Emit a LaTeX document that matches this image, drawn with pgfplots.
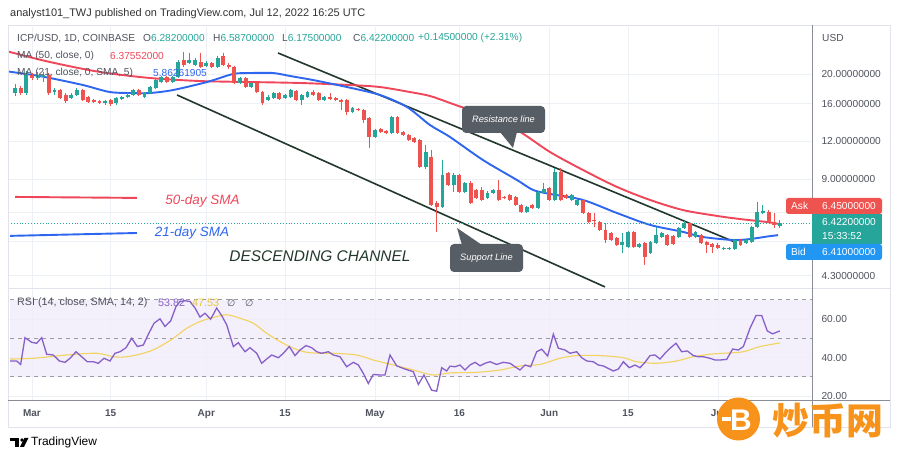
\documentclass[border=0pt]{standalone}
\usepackage{fontspec}
\setmainfont{Liberation Sans}
\newfontfamily\dejavu{DejaVu Sans}
\newfontfamily\cjk{Noto Sans CJK SC}
\usepackage{pgfplots}
\usepackage{pgfplotstable}
\pgfplotsset{compat=1.18}

\definecolor{up}{HTML}{26A69A}
\definecolor{dn}{HTML}{EF5350}
\definecolor{maR}{HTML}{F0465A}
\definecolor{maB}{HTML}{2E66F0}
\definecolor{chan}{HTML}{22382C}
\definecolor{gridc}{HTML}{EDF0F5}
\definecolor{txt}{HTML}{50535E}
\definecolor{hdr}{HTML}{333333}
\definecolor{rsiP}{HTML}{8660C8}
\definecolor{rsiY}{HTML}{F2D35E}
\definecolor{rsiYt}{HTML}{E9C63E}
\definecolor{band}{HTML}{F1ECFA}
\definecolor{dashc}{HTML}{9A9CA3}
\definecolor{callout}{HTML}{575D64}
\definecolor{askc}{HTML}{EF5350}
\definecolor{bidc}{HTML}{2196F3}
\definecolor{coin}{HTML}{F7931A}
\definecolor{frame}{HTML}{E0E3EB}
\definecolor{sep}{HTML}{8A8D96}

\newcommand\fs[1]{\fontsize{#1}{#1}\selectfont}
\pgfplotsset{candle/.style={only marks, mark=*, mark size=0pt,
  mark options={draw=none, fill=none},
  error bars/.cd, y dir=minus, y explicit, error mark=none}}

% day index: 0 = 1 Mar 2022; prices in USD
\pgfplotstableread{
d o h l c
-3 17.35 18.59 16.96 18.02
-1 17.35 20.52 17.09 20.21
1 19.46 20.37 19.16 19.91
2 19.61 20.37 18.87 19.91
4 17.48 18.02 17.09 17.75
7 16.70 17.35 16.57 17.09
8 17.09 18.02 16.96 17.75
13 16.08 16.45 15.83 16.33
15 16.08 16.83 15.83 16.70
16 16.57 16.96 16.45 16.83
17 16.83 17.35 16.70 17.09
18 17.09 17.89 16.96 17.75
20 16.83 17.48 16.70 17.35
21 17.35 18.30 17.22 18.16
22 18.02 19.31 17.89 19.16
23 18.87 19.76 18.73 19.61
25 18.87 19.76 18.73 19.61
26 19.61 22.32 19.46 21.98
28 21.82 23.55 21.65 22.32
29 21.49 22.67 21.33 22.32
31 21.33 22.15 21.17 21.82
33 21.17 23.01 21.01 22.67
37 18.73 19.61 18.59 19.46
39 18.16 18.87 18.02 18.73
42 16.45 17.09 16.33 16.83
43 16.70 17.48 16.57 17.35
45 16.70 17.22 16.57 17.09
46 16.83 17.89 16.70 17.75
48 16.45 17.22 15.83 17.09
49 16.83 17.62 16.70 17.48
52 16.45 16.96 16.33 16.83
57 15.01 15.59 14.90 15.47
61 12.40 13.18 12.31 13.08
64 12.79 14.56 12.69 14.45
70 9.86 11.67 9.71 11.06
73 7.27 10.40 7.22 9.28
75 8.60 9.42 8.15 9.28
77 8.15 8.80 8.09 8.73
81 7.79 8.21 7.73 8.09
82 8.09 8.34 8.03 8.28
88 7.00 7.33 6.94 7.27
90 7.22 8.21 7.16 8.15
91 8.09 8.73 8.03 8.34
93 7.67 9.79 7.61 9.49
96 7.67 8.03 7.61 7.97
97 7.38 7.73 7.33 7.67
105 5.44 5.96 5.11 5.56
106 5.36 6.05 5.31 6.01
108 5.36 5.52 5.31 5.48
110 5.11 5.61 5.07 5.56
111 5.52 6.24 5.48 5.87
112 5.78 6.01 5.74 5.96
115 5.78 6.24 5.74 6.19
116 6.19 6.53 6.15 6.43
118 5.78 6.05 5.74 6.01
123 5.27 5.36 5.23 5.31
124 5.27 5.36 5.23 5.31
125 5.27 5.69 5.23 5.65
127 5.52 5.69 5.48 5.65
128 5.56 6.29 5.52 6.24
129 6.24 7.55 6.19 7.00
130 6.94 7.38 6.89 7.05
133 6.282 6.587 6.175 6.422
}\upc

\pgfplotstableread{
d o h l c
-2 18.02 18.30 17.09 17.35
0 19.91 20.21 19.16 19.46
3 19.91 20.21 17.09 17.35
5 17.75 17.89 16.57 16.70
6 17.09 17.35 16.08 16.33
9 17.75 17.89 16.33 16.45
10 16.83 16.96 16.08 16.20
11 16.45 16.57 16.08 16.20
12 16.33 16.45 15.96 16.08
14 16.45 16.57 15.71 15.96
19 17.75 17.89 16.96 17.09
24 19.61 19.76 18.73 18.87
27 22.32 23.73 21.17 21.49
30 21.98 23.55 21.01 21.17
32 21.82 21.98 21.01 21.17
34 23.01 23.55 21.33 21.49
35 21.49 21.82 20.85 21.17
36 21.17 21.33 18.59 18.73
38 19.46 19.61 18.02 18.16
40 18.73 18.87 17.35 17.48
41 17.48 17.62 15.83 16.08
44 17.35 17.48 16.45 16.57
47 17.62 17.75 16.33 16.45
50 17.48 17.75 16.96 17.09
51 17.35 17.48 16.33 16.45
53 16.83 17.35 16.45 16.57
54 16.70 16.83 16.33 16.45
55 16.45 16.57 15.24 16.20
56 16.45 16.57 14.67 15.01
58 15.36 15.47 15.12 15.24
59 15.24 15.36 13.80 14.12
60 14.34 14.45 11.41 12.40
62 13.18 13.28 12.79 12.88
63 12.98 13.08 12.69 12.79
65 14.45 14.56 12.69 12.79
66 12.88 12.98 12.50 12.59
67 12.59 12.69 12.03 12.12
68 12.31 12.40 11.85 11.94
69 12.12 12.21 9.79 9.86
71 10.65 11.23 7.33 7.38
72 7.50 7.61 6.01 7.27
74 9.42 9.49 8.53 8.60
76 9.28 9.35 8.09 8.15
78 8.73 8.86 7.44 7.50
79 8.28 8.34 7.73 7.79
80 8.28 8.47 7.61 7.67
83 8.28 8.93 7.61 7.67
84 7.85 7.91 7.73 7.79
85 7.97 8.03 7.61 7.67
86 7.85 7.91 7.33 7.38
87 7.38 7.44 6.94 7.00
89 7.38 7.44 7.16 7.22
92 8.40 8.47 7.61 7.67
94 9.49 9.79 7.61 7.67
95 7.97 8.03 7.73 7.79
98 7.67 7.73 6.89 6.94
99 6.94 7.00 6.43 6.48
100 6.58 6.94 6.24 6.53
101 6.48 6.53 6.05 6.10
102 6.10 6.43 5.52 5.65
103 5.96 6.01 5.61 5.65
104 5.74 5.78 5.40 5.44
107 6.01 6.05 5.31 5.36
109 5.52 5.56 4.67 4.96
113 5.87 5.92 5.40 5.44
114 5.83 5.87 5.44 5.48
117 6.43 6.48 5.74 5.78
119 5.87 5.92 5.48 5.52
120 5.56 5.61 5.11 5.44
121 5.48 5.52 5.11 5.36
122 5.44 5.52 5.27 5.31
126 5.65 5.69 5.40 5.44
131 7.00 7.10 6.43 6.48
132 6.48 6.94 6.19 6.34
}\dnc

% 50-day SMA
\pgfplotstableread{
d p
-4.27 23.82
3.20 21.98
12.09 20.37
20.99 19.46
29.88 19.01
38.77 18.87
47.66 18.73
56.55 18.44
61.89 18.16
67.22 17.48
70.78 16.96
74.34 16.08
80.21 14.67
86.25 13.08
92.12 11.06
97.99 9.64
104.04 8.47
109.91 7.67
115.77 7.10
121.82 6.79
125.91 6.63
130.71 6.48
133.00 6.3755
}\maRed

% 21-day SMA
\pgfplotstableread{
d p
-4.27 20.45
0.18 19.91
3.20 19.46
9.07 18.44
13.87 17.48
17.96 17.35
20.99 17.35
25.08 17.75
31.12 18.87
35.75 20.06
38.77 20.21
42.86 20.21
45.88 19.76
49.97 19.16
56.02 18.16
61.89 17.09
66.69 15.59
70.78 13.59
74.34 12.40
80.21 10.40
86.25 8.93
89.10 8.28
92.12 8.03
97.99 7.67
104.04 6.94
109.91 6.34
115.77 6.01
119.33 5.78
124.66 5.65
127.68 5.69
130.71 5.80
132.67 5.8626
}\maBlue

\pgfplotstableread{
d p
43.75 23.55
125.02 5.56
}\resline
\pgfplotstableread{
d p
25.79 17.09
101.90 3.95
}\supline
\pgfplotstableread{
d p
-4.27 6.422
138.72 6.422
}\lastp
\pgfplotstableread{
d p
-3.02 7.85
18.67 7.79
}\swR
\pgfplotstableread{
d p
-3.91 5.83
18.67 5.96
}\swB

% RSI 14 and its SMA
\pgfplotstableread{
d v
-3.91 38.2
-2.73 38.2
-2.02 36.4
-1.25 50.3
-0.06 47.9
0.83 47.4
1.72 50.3
2.61 41.7
3.79 41.3
4.86 38.2
5.87 37.5
6.76 39.6
7.83 43.0
8.83 40.4
9.84 37.8
10.91 37.8
11.80 37.0
12.80 39.6
13.87 38.2
14.76 42.2
15.65 43.0
16.72 45.1
17.73 50.0
18.73 45.7
19.80 46.5
20.69 52.1
21.70 57.8
22.76 60.1
23.65 56.1
24.66 59.0
25.61 66.5
26.32 69.1
27.21 69.5
28.10 69.1
28.99 65.7
29.88 61.0
30.77 63.0
31.77 59.9
32.84 65.7
33.73 61.8
34.62 57.0
35.81 45.7
36.69 47.7
37.88 43.0
38.77 45.1
39.96 42.2
40.84 37.0
41.73 39.2
42.62 41.3
43.81 39.9
44.70 42.2
45.76 45.7
46.77 41.0
47.66 43.9
48.73 46.2
49.74 45.1
50.63 43.0
51.51 42.2
52.70 43.0
53.59 41.3
54.78 40.4
55.96 35.2
57.15 37.5
58.04 36.1
58.93 31.7
59.81 26.5
60.70 31.2
61.89 30.9
62.78 30.9
63.67 41.3
64.85 35.7
66.04 34.3
67.82 32.6
68.71 26.0
69.71 30.9
71.08 23.0
71.97 22.5
72.86 34.7
73.74 33.0
74.34 35.5
75.23 35.2
76.12 36.1
77.01 33.5
77.90 36.1
78.79 37.5
79.68 35.7
80.56 37.0
81.45 37.8
82.64 36.4
83.82 37.5
85.01 37.0
85.90 35.2
86.79 33.5
87.68 36.1
88.69 35.2
89.75 43.0
90.64 44.3
91.71 40.8
92.72 52.1
93.61 44.8
94.79 43.9
95.68 42.2
96.87 43.0
97.76 39.9
98.65 38.2
99.83 37.8
100.72 36.1
101.61 35.6
102.50 34.3
103.39 33.0
104.28 34.0
105.17 37.8
106.23 34.7
107.24 36.1
108.13 34.7
109.02 37.5
109.91 41.0
110.80 41.3
111.69 39.2
112.58 42.2
113.47 44.8
114.53 47.4
115.54 43.0
116.55 43.4
117.61 41.0
118.50 40.4
119.39 40.4
120.58 39.6
121.47 38.7
122.36 38.7
123.54 39.0
124.61 44.4
125.62 43.9
126.51 45.7
127.69 55.2
128.76 61.8
129.77 61.8
130.77 53.8
131.72 52.3
133.00 53.82
}\rsi

\pgfplotstableread{
d v
-3.91 39.2
0.24 39.6
6.17 41.3
11.50 42.2
14.46 40.4
16.84 40.4
19.80 42.2
22.17 44.8
25.13 50.0
27.51 55.2
29.88 58.7
32.25 60.8
34.62 62.2
36.99 60.4
39.36 57.8
41.73 52.6
44.10 48.3
46.48 44.8
48.85 42.7
51.22 42.2
53.59 42.2
57.74 41.3
60.70 38.7
64.26 36.1
67.82 33.5
71.37 30.9
74.34 32.0
79.08 32.3
83.23 33.5
86.79 35.6
90.35 36.4
93.90 39.6
96.87 41.0
101.02 41.0
105.17 39.9
107.54 37.8
111.09 37.0
114.65 38.2
117.61 40.4
120.58 41.7
122.95 42.2
126.51 43.0
129.47 45.7
133.00 47.53
}\rsisma

\begin{document}
\begin{tikzpicture}
\useasboundingbox (0,0) rectangle (900bp,459bp);
\fill[white] (0,0) rectangle (900bp,459bp);

% ---------- price panel ----------
\begin{axis}[
  at={(8bp,171bp)}, anchor=south west,
  width=804bp, height=261bp, scale only axis,
  xmin=-4.27, xmax=138.72, ymin=1.3651, ymax=3.3575,
  axis line style={draw=none}, major tick length=0pt,
  xtick={0,14,31,45,61,76,92,106,122}, xticklabels={},
  ytick={1.4586,1.7228,1.9459,2.1972,2.4849,2.7726,2.9957},
  yticklabels={4.30000000,,,9.00000000,12.00000000,16.00000000,20.00000000},
  yticklabel pos=right,
  yticklabel style={font=\fs{10.2}, text=txt, xshift=6bp},
  grid=major, major grid style={draw=gridc, line width=0.8bp},
]
% channel lines
\addplot[chan, line width=1.6bp] table[x=d, y expr={ln(\thisrow{p})}] \resline;
\addplot[chan, line width=1.6bp] table[x=d, y expr={ln(\thisrow{p})}] \supline;
% moving averages
\addplot[maR, line width=1.9bp, smooth] table[x=d, y expr={ln(\thisrow{p})}] \maRed;
\addplot[maB, line width=1.9bp, smooth] table[x=d, y expr={ln(\thisrow{p})}] \maBlue;
% legend swatches
\addplot[maR, line width=1.9bp] table[x=d, y expr={ln(\thisrow{p})}] \swR;
\addplot[maB, line width=1.9bp] table[x=d, y expr={ln(\thisrow{p})}] \swB;
% last price
\addplot[up, dotted, line width=0.9bp] table[x=d, y expr={ln(\thisrow{p})}] \lastp;
% candles: wicks
\addplot[candle, error bar style={draw=up, line width=1bp}]
  table[x=d, y expr={ln(\thisrow{h})}, y error minus expr={ln(\thisrow{h})-ln(\thisrow{l})}] \upc;
\addplot[candle, error bar style={draw=dn, line width=1bp}]
  table[x=d, y expr={ln(\thisrow{h})}, y error minus expr={ln(\thisrow{h})-ln(\thisrow{l})}] \dnc;
% candles: bodies
\addplot[candle, error bar style={draw=up, line width=3.9bp}]
  table[x=d, y expr={ln(\thisrow{c})}, y error minus expr={max(ln(\thisrow{c})-ln(\thisrow{o}),0.007)}] \upc;
\addplot[candle, error bar style={draw=dn, line width=3.9bp}]
  table[x=d, y expr={ln(\thisrow{o})}, y error minus expr={max(ln(\thisrow{o})-ln(\thisrow{c}),0.007)}] \dnc;
\end{axis}

% ---------- RSI panel ----------
\begin{axis}[
  at={(8bp,58bp)}, anchor=south west,
  width=804bp, height=112bp, scale only axis,
  xmin=-4.27, xmax=138.72, ymin=17.4, ymax=75.6,
  axis line style={draw=none}, major tick length=0pt,
  xtick={0,14,31,45,61,76,92,106,122},
  xticklabels={Mar,15,Apr,15,May,16,Jun,15,Jul},
  xticklabel style={font=\bfseries\fs{10}, text=txt, yshift=-5bp},
  ytick={20,40,60}, yticklabels={20.00,40.00,60.00},
  yticklabel pos=right,
  yticklabel style={font=\fs{10.2}, text=txt, xshift=6bp},
  grid=major, major grid style={draw=gridc, line width=0.8bp},
]
\addplot[fill=band, fill opacity=0.8, draw=none] coordinates {(-3.9,30) (138.72,30) (138.72,70) (-3.9,70)} -- cycle;
\addplot[dashc, line width=0.8bp, dash pattern=on 4bp off 4bp] coordinates {(-3.9,70) (138.72,70)};
\addplot[dashc, line width=0.8bp, dash pattern=on 4bp off 4bp] coordinates {(-3.9,50) (138.72,50)};
\addplot[dashc, line width=0.8bp, dash pattern=on 4bp off 4bp] coordinates {(-3.9,30) (138.72,30)};
\addplot[rsiY, line width=1.1bp, smooth] table[x=d, y=v] \rsisma;
\addplot[rsiP, line width=1.3bp] table[x=d, y=v] \rsi;
\end{axis}

% ---------- overlays (pixel coordinates, y down) ----------
\begin{scope}[x=1bp, y=-1bp, shift={(0bp,459bp)}]
\draw[frame, line width=0.8bp] (8,25.5) rectangle (890,427);
\draw[frame, line width=0.8bp] (8,288.5) -- (890,288.5);
\draw[sep, line width=1bp] (812.5,25.5) -- (812.5,427);
\draw[sep, line width=1bp] (8,401) -- (890,401);

\node[anchor=west, inner sep=0, text=hdr, font=\fs{11}] at (10,14)
  {analyst101\_TWJ published on TradingView.com, Jul 12, 2022 16:25 UTC};

\node[anchor=west, inner sep=0, text=txt, font=\fs{10.2}] at (17,38) {ICP/USD, 1D, COINBASE};
\node[anchor=west, inner sep=0, text=txt, font=\fs{10.2}] at (143,38) {O\textcolor{up}{6.28200000}};
\node[anchor=west, inner sep=0, text=txt, font=\fs{10.2}] at (213,38) {H\textcolor{up}{6.58700000}};
\node[anchor=west, inner sep=0, text=txt, font=\fs{10.2}] at (282,38) {L\textcolor{up}{6.17500000}};
\node[anchor=west, inner sep=0, text=txt, font=\fs{10.2}] at (353,38) {C\textcolor{up}{6.42200000}};
\node[anchor=west, inner sep=0, text=up, font=\fs{10.2}] at (418,38) {+0.14500000 (+2.31\%)};
\node[anchor=west, inner sep=0, text=txt, font=\fs{10.2}] at (17,56) {MA (50, close, 0)};
\node[anchor=west, inner sep=0, text=maR, font=\fs{10.2}] at (110,56) {6.37552000};
\node[anchor=west, inner sep=0, text=txt, font=\fs{10.2}] at (17,73) {MA (21, close, 0, SMA, 5)};
\node[anchor=west, inner sep=0, text=maB, font=\fs{10.2}] at (153,73) {5.86261905};

\node[anchor=west, inner sep=0, text=txt, font=\fs{10.2}] at (822,38) {USD};

% price scale labels
\fill[askc, rounded corners=2.5bp] (786,198) rectangle (882,214);
\node[anchor=west, inner sep=0, text=white, font=\fs{10.2}] at (791,206) {Ask};
\node[anchor=west, inner sep=0, text=white, font=\fs{10.2}] at (822,206) {6.45000000};
\fill[up] (812,214) rectangle (882,244);
\node[anchor=west, inner sep=0, text=white, font=\fs{10.2}] at (822,222) {6.42200000};
\node[anchor=west, inner sep=0, text=white, font=\fs{10.2}] at (822,236.5) {15:33:52};
\fill[bidc, rounded corners=2.5bp] (786,244) rectangle (882,260);
\node[anchor=west, inner sep=0, text=white, font=\fs{10.2}] at (791,252) {Bid};
\node[anchor=west, inner sep=0, text=white, font=\fs{10.2}] at (822,252) {6.41000000};

% annotations
\node[text=maR, font=\itshape\fs{13.5}] at (202.5,201) {50-day SMA};
\node[text=maB, font=\itshape\fs{13.5}] at (192,233.5) {21-day SMA};
\node[text=chan, font=\itshape\fs{15.5}] at (320,256) {DESCENDING CHANNEL};

\fill[callout, rounded corners=4bp] (462,106) rectangle (545,133);
\fill[callout] (500,132) -- (517,132) -- (513,148) -- cycle;
\node[text=white, font=\itshape\fs{9.3}] at (503.5,119.5) {Resistance line};
\fill[callout, rounded corners=4bp] (450,244) rectangle (523,272);
\fill[callout] (462,245) -- (482,245) -- (457,228) -- cycle;
\node[text=white, font=\itshape\fs{9.3}] at (486.5,258) {Support Line};

% RSI header
\node[anchor=west, inner sep=0, text=txt, font=\fs{10.8}] at (17,303) {RSI (14, close, SMA, 14, 2)};
\node[anchor=west, inner sep=0, text=rsiP, font=\fs{10.8}] at (158,303) {53.82};
\node[anchor=west, inner sep=0, text=rsiYt, font=\fs{10.8}] at (192,303) {47.53};
\node[anchor=west, inner sep=0, text=txt, font=\dejavu\fs{9.5}] at (227,303) {∅};
\node[anchor=west, inner sep=0, text=txt, font=\dejavu\fs{9.5}] at (245,303) {∅};

% TradingView logo
\fill[black] (10,438) rectangle (19,441.5);
\fill[black] (14.5,438) rectangle (18.5,447);
\fill[black] (22,440) circle (1.8);
\fill[black] (20,447) -- (24.5,438) -- (28.5,438) -- (24,447) -- cycle;
\node[anchor=west, inner sep=0, text=black, font=\fs{12}] at (31,442.5) {TradingView};

% watermark
\fill[coin] (738.5,419) circle (21.5);
\node[text=white, font=\bfseries\fs{30}] at (741,420) {B};
\fill[white] (722,417.5) rectangle (731,421.5);
\node[text=coin, font=\cjk\bfseries\fs{37}] at (828,421) {炒币网};
\end{scope}
\end{tikzpicture}
\end{document}
